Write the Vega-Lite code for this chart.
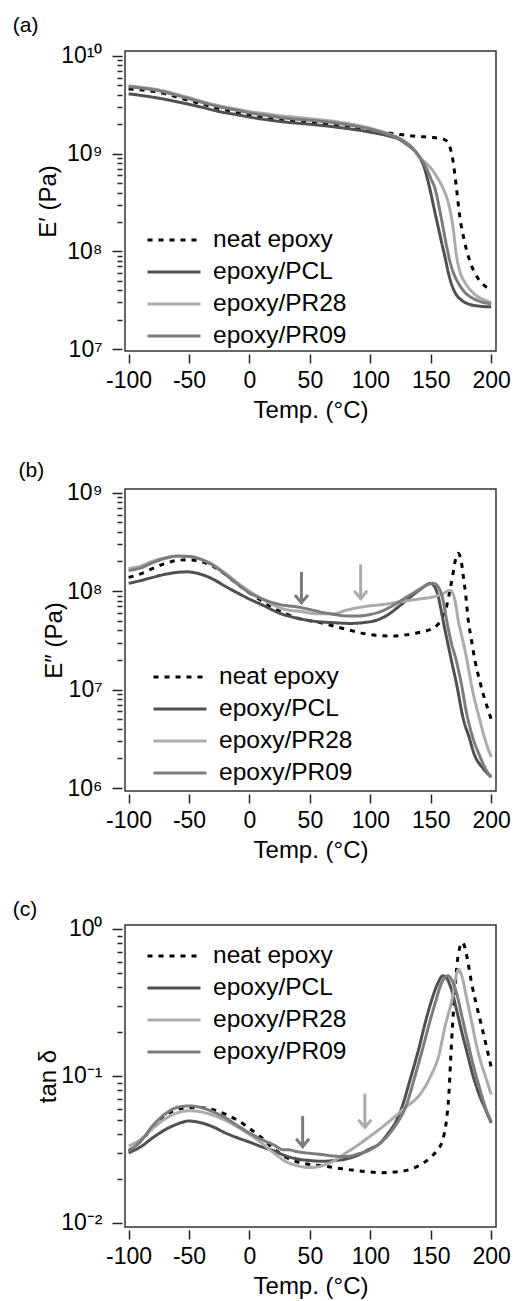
{
  "$schema": "https://vega.github.io/schema/vega-lite/v6.json",
  "padding": {"left": 12, "top": 14, "right": 5, "bottom": 0},
  "spacing": 35,
  "resolve": {"legend": {"color": "independent", "strokeDash": "independent"}},
  "datasets": {
    "a": [
      {"s":"neat epoxy","T":-100,"v":4.6e9},{"s":"neat epoxy","T":-90,"v":4.5e9},{"s":"neat epoxy","T":-75,"v":4.25e9},{"s":"neat epoxy","T":-60,"v":3.8e9},{"s":"neat epoxy","T":-50,"v":3.5e9},{"s":"neat epoxy","T":-40,"v":3.25e9},{"s":"neat epoxy","T":-25,"v":2.9e9},{"s":"neat epoxy","T":-10,"v":2.65e9},{"s":"neat epoxy","T":0,"v":2.5e9},{"s":"neat epoxy","T":15,"v":2.3e9},{"s":"neat epoxy","T":25,"v":2.2e9},{"s":"neat epoxy","T":40,"v":2.12e9},{"s":"neat epoxy","T":50,"v":2.08e9},{"s":"neat epoxy","T":75,"v":1.93e9},{"s":"neat epoxy","T":100,"v":1.75e9},{"s":"neat epoxy","T":115,"v":1.63e9},{"s":"neat epoxy","T":125,"v":1.57e9},{"s":"neat epoxy","T":140,"v":1.5e9},{"s":"neat epoxy","T":150,"v":1.47e9},{"s":"neat epoxy","T":158,"v":1.43e9},{"s":"neat epoxy","T":162,"v":1.38e9},{"s":"neat epoxy","T":164.5,"v":1.28e9},{"s":"neat epoxy","T":166.5,"v":1.1e9},{"s":"neat epoxy","T":168.6,"v":8.2e8},{"s":"neat epoxy","T":171.3,"v":4.4e8},{"s":"neat epoxy","T":174,"v":2.3e8},{"s":"neat epoxy","T":178,"v":1.25e8},{"s":"neat epoxy","T":181,"v":9e7},{"s":"neat epoxy","T":184,"v":7e7},{"s":"neat epoxy","T":190,"v":5.1e7},{"s":"neat epoxy","T":195,"v":4.4e7},{"s":"neat epoxy","T":200,"v":4e7},
      {"s":"epoxy/PCL","T":-100,"v":4.1e9},{"s":"epoxy/PCL","T":-90,"v":3.95e9},{"s":"epoxy/PCL","T":-75,"v":3.7e9},{"s":"epoxy/PCL","T":-60,"v":3.4e9},{"s":"epoxy/PCL","T":-50,"v":3.2e9},{"s":"epoxy/PCL","T":-40,"v":3.0e9},{"s":"epoxy/PCL","T":-25,"v":2.7e9},{"s":"epoxy/PCL","T":-10,"v":2.5e9},{"s":"epoxy/PCL","T":0,"v":2.37e9},{"s":"epoxy/PCL","T":15,"v":2.22e9},{"s":"epoxy/PCL","T":25,"v":2.14e9},{"s":"epoxy/PCL","T":40,"v":2.05e9},{"s":"epoxy/PCL","T":50,"v":2.0e9},{"s":"epoxy/PCL","T":75,"v":1.85e9},{"s":"epoxy/PCL","T":100,"v":1.66e9},{"s":"epoxy/PCL","T":115,"v":1.52e9},{"s":"epoxy/PCL","T":125,"v":1.38e9},{"s":"epoxy/PCL","T":130,"v":1.25e9},{"s":"epoxy/PCL","T":135,"v":1.12e9},{"s":"epoxy/PCL","T":140,"v":9.5e8},{"s":"epoxy/PCL","T":145,"v":7e8},{"s":"epoxy/PCL","T":149,"v":4.5e8},{"s":"epoxy/PCL","T":153.5,"v":2.5e8},{"s":"epoxy/PCL","T":156.5,"v":1.7e8},{"s":"epoxy/PCL","T":159,"v":1.23e8},{"s":"epoxy/PCL","T":162,"v":8.5e7},{"s":"epoxy/PCL","T":164.5,"v":6.1e7},{"s":"epoxy/PCL","T":167,"v":4.7e7},{"s":"epoxy/PCL","T":170,"v":3.8e7},{"s":"epoxy/PCL","T":175,"v":3.2e7},{"s":"epoxy/PCL","T":181,"v":2.9e7},{"s":"epoxy/PCL","T":190,"v":2.75e7},{"s":"epoxy/PCL","T":200,"v":2.7e7},
      {"s":"epoxy/PR28","T":-100,"v":4.95e9},{"s":"epoxy/PR28","T":-90,"v":4.8e9},{"s":"epoxy/PR28","T":-75,"v":4.5e9},{"s":"epoxy/PR28","T":-60,"v":4.05e9},{"s":"epoxy/PR28","T":-50,"v":3.75e9},{"s":"epoxy/PR28","T":-40,"v":3.45e9},{"s":"epoxy/PR28","T":-25,"v":3.1e9},{"s":"epoxy/PR28","T":-10,"v":2.85e9},{"s":"epoxy/PR28","T":0,"v":2.7e9},{"s":"epoxy/PR28","T":15,"v":2.55e9},{"s":"epoxy/PR28","T":25,"v":2.45e9},{"s":"epoxy/PR28","T":40,"v":2.35e9},{"s":"epoxy/PR28","T":50,"v":2.28e9},{"s":"epoxy/PR28","T":75,"v":2.1e9},{"s":"epoxy/PR28","T":100,"v":1.82e9},{"s":"epoxy/PR28","T":115,"v":1.6e9},{"s":"epoxy/PR28","T":125,"v":1.42e9},{"s":"epoxy/PR28","T":130,"v":1.3e9},{"s":"epoxy/PR28","T":135,"v":1.15e9},{"s":"epoxy/PR28","T":140,"v":9.3e8},{"s":"epoxy/PR28","T":145,"v":8.2e8},{"s":"epoxy/PR28","T":150.6,"v":7e8},{"s":"epoxy/PR28","T":155,"v":5.8e8},{"s":"epoxy/PR28","T":160.3,"v":4.4e8},{"s":"epoxy/PR28","T":165.8,"v":2.7e8},{"s":"epoxy/PR28","T":168.6,"v":1.7e8},{"s":"epoxy/PR28","T":171.3,"v":9e7},{"s":"epoxy/PR28","T":174,"v":6.3e7},{"s":"epoxy/PR28","T":178.3,"v":4.8e7},{"s":"epoxy/PR28","T":183,"v":4e7},{"s":"epoxy/PR28","T":188,"v":3.5e7},{"s":"epoxy/PR28","T":194,"v":3.2e7},{"s":"epoxy/PR28","T":200,"v":3.0e7},
      {"s":"epoxy/PR09","T":-100,"v":4.85e9},{"s":"epoxy/PR09","T":-90,"v":4.7e9},{"s":"epoxy/PR09","T":-75,"v":4.4e9},{"s":"epoxy/PR09","T":-60,"v":3.95e9},{"s":"epoxy/PR09","T":-50,"v":3.65e9},{"s":"epoxy/PR09","T":-40,"v":3.38e9},{"s":"epoxy/PR09","T":-25,"v":3.02e9},{"s":"epoxy/PR09","T":-10,"v":2.78e9},{"s":"epoxy/PR09","T":0,"v":2.62e9},{"s":"epoxy/PR09","T":15,"v":2.45e9},{"s":"epoxy/PR09","T":25,"v":2.35e9},{"s":"epoxy/PR09","T":40,"v":2.25e9},{"s":"epoxy/PR09","T":50,"v":2.2e9},{"s":"epoxy/PR09","T":75,"v":2.03e9},{"s":"epoxy/PR09","T":100,"v":1.78e9},{"s":"epoxy/PR09","T":115,"v":1.57e9},{"s":"epoxy/PR09","T":125,"v":1.4e9},{"s":"epoxy/PR09","T":130,"v":1.27e9},{"s":"epoxy/PR09","T":135,"v":1.13e9},{"s":"epoxy/PR09","T":140,"v":9.6e8},{"s":"epoxy/PR09","T":146.6,"v":7e8},{"s":"epoxy/PR09","T":150,"v":5.6e8},{"s":"epoxy/PR09","T":153.5,"v":4.4e8},{"s":"epoxy/PR09","T":159,"v":2.1e8},{"s":"epoxy/PR09","T":163,"v":1.15e8},{"s":"epoxy/PR09","T":166,"v":7.8e7},{"s":"epoxy/PR09","T":168.6,"v":6.1e7},{"s":"epoxy/PR09","T":173,"v":4.7e7},{"s":"epoxy/PR09","T":178.3,"v":3.8e7},{"s":"epoxy/PR09","T":184,"v":3.35e7},{"s":"epoxy/PR09","T":190,"v":3.1e7},{"s":"epoxy/PR09","T":200,"v":2.9e7}
    ],
    "b": [
      {"s":"neat epoxy","T":-100,"v":1.38e8},{"s":"neat epoxy","T":-90,"v":1.5e8},{"s":"neat epoxy","T":-80,"v":1.7e8},{"s":"neat epoxy","T":-70,"v":1.9e8},{"s":"neat epoxy","T":-60,"v":2.05e8},{"s":"neat epoxy","T":-50,"v":2.08e8},{"s":"neat epoxy","T":-40,"v":2.0e8},{"s":"neat epoxy","T":-30,"v":1.78e8},{"s":"neat epoxy","T":-20,"v":1.48e8},{"s":"neat epoxy","T":-10,"v":1.18e8},{"s":"neat epoxy","T":0,"v":9.6e7},{"s":"neat epoxy","T":10,"v":8e7},{"s":"neat epoxy","T":18,"v":6.9e7},{"s":"neat epoxy","T":30,"v":5.9e7},{"s":"neat epoxy","T":40,"v":5.3e7},{"s":"neat epoxy","T":50,"v":5e7},{"s":"neat epoxy","T":60,"v":4.75e7},{"s":"neat epoxy","T":67,"v":4.5e7},{"s":"neat epoxy","T":80,"v":4.1e7},{"s":"neat epoxy","T":95,"v":3.7e7},{"s":"neat epoxy","T":105,"v":3.55e7},{"s":"neat epoxy","T":117,"v":3.5e7},{"s":"neat epoxy","T":130,"v":3.6e7},{"s":"neat epoxy","T":140,"v":3.8e7},{"s":"neat epoxy","T":150,"v":4.1e7},{"s":"neat epoxy","T":156,"v":4.6e7},{"s":"neat epoxy","T":160,"v":5.5e7},{"s":"neat epoxy","T":163,"v":6.9e7},{"s":"neat epoxy","T":165,"v":9e7},{"s":"neat epoxy","T":168,"v":1.4e8},{"s":"neat epoxy","T":170.5,"v":2.1e8},{"s":"neat epoxy","T":172.7,"v":2.42e8},{"s":"neat epoxy","T":175,"v":2.1e8},{"s":"neat epoxy","T":177,"v":1.4e8},{"s":"neat epoxy","T":179,"v":9e7},{"s":"neat epoxy","T":181,"v":5.1e7},{"s":"neat epoxy","T":183.5,"v":3.3e7},{"s":"neat epoxy","T":186.5,"v":2e7},{"s":"neat epoxy","T":190,"v":1.3e7},{"s":"neat epoxy","T":194,"v":8.5e6},{"s":"neat epoxy","T":197,"v":6.5e6},{"s":"neat epoxy","T":200,"v":5e6},
      {"s":"epoxy/PCL","T":-100,"v":1.2e8},{"s":"epoxy/PCL","T":-90,"v":1.28e8},{"s":"epoxy/PCL","T":-80,"v":1.38e8},{"s":"epoxy/PCL","T":-70,"v":1.48e8},{"s":"epoxy/PCL","T":-60,"v":1.55e8},{"s":"epoxy/PCL","T":-52,"v":1.57e8},{"s":"epoxy/PCL","T":-40,"v":1.48e8},{"s":"epoxy/PCL","T":-30,"v":1.32e8},{"s":"epoxy/PCL","T":-20,"v":1.12e8},{"s":"epoxy/PCL","T":-10,"v":9.6e7},{"s":"epoxy/PCL","T":0,"v":8.3e7},{"s":"epoxy/PCL","T":10,"v":7.3e7},{"s":"epoxy/PCL","T":26,"v":5.9e7},{"s":"epoxy/PCL","T":40,"v":5.3e7},{"s":"epoxy/PCL","T":56,"v":4.9e7},{"s":"epoxy/PCL","T":67,"v":4.8e7},{"s":"epoxy/PCL","T":84,"v":4.7e7},{"s":"epoxy/PCL","T":95,"v":4.8e7},{"s":"epoxy/PCL","T":106,"v":5.1e7},{"s":"epoxy/PCL","T":115,"v":5.8e7},{"s":"epoxy/PCL","T":123,"v":6.9e7},{"s":"epoxy/PCL","T":130,"v":8.1e7},{"s":"epoxy/PCL","T":137,"v":9.5e7},{"s":"epoxy/PCL","T":144,"v":1.1e8},{"s":"epoxy/PCL","T":149.5,"v":1.2e8},{"s":"epoxy/PCL","T":153,"v":1.12e8},{"s":"epoxy/PCL","T":156,"v":9e7},{"s":"epoxy/PCL","T":158.5,"v":6.5e7},{"s":"epoxy/PCL","T":161,"v":4.5e7},{"s":"epoxy/PCL","T":164,"v":3e7},{"s":"epoxy/PCL","T":167,"v":2e7},{"s":"epoxy/PCL","T":171,"v":1.2e7},{"s":"epoxy/PCL","T":177,"v":5e6},{"s":"epoxy/PCL","T":182,"v":3.2e6},{"s":"epoxy/PCL","T":186,"v":2.2e6},{"s":"epoxy/PCL","T":193,"v":1.6e6},{"s":"epoxy/PCL","T":200,"v":1.3e6},
      {"s":"epoxy/PR28","T":-100,"v":1.7e8},{"s":"epoxy/PR28","T":-90,"v":1.8e8},{"s":"epoxy/PR28","T":-80,"v":2.02e8},{"s":"epoxy/PR28","T":-70,"v":2.18e8},{"s":"epoxy/PR28","T":-60,"v":2.26e8},{"s":"epoxy/PR28","T":-50,"v":2.24e8},{"s":"epoxy/PR28","T":-40,"v":2.1e8},{"s":"epoxy/PR28","T":-30,"v":1.85e8},{"s":"epoxy/PR28","T":-20,"v":1.52e8},{"s":"epoxy/PR28","T":-10,"v":1.22e8},{"s":"epoxy/PR28","T":0,"v":1.0e8},{"s":"epoxy/PR28","T":10,"v":8.4e7},{"s":"epoxy/PR28","T":20,"v":7.2e7},{"s":"epoxy/PR28","T":30,"v":6.5e7},{"s":"epoxy/PR28","T":43,"v":6.2e7},{"s":"epoxy/PR28","T":55,"v":5.9e7},{"s":"epoxy/PR28","T":70,"v":5.9e7},{"s":"epoxy/PR28","T":80,"v":6.4e7},{"s":"epoxy/PR28","T":90,"v":6.8e7},{"s":"epoxy/PR28","T":100,"v":7.1e7},{"s":"epoxy/PR28","T":110,"v":7.3e7},{"s":"epoxy/PR28","T":125,"v":7.8e7},{"s":"epoxy/PR28","T":140,"v":8.3e7},{"s":"epoxy/PR28","T":153,"v":8.8e7},{"s":"epoxy/PR28","T":160,"v":9.4e7},{"s":"epoxy/PR28","T":166,"v":1.02e8},{"s":"epoxy/PR28","T":169,"v":9e7},{"s":"epoxy/PR28","T":171,"v":7e7},{"s":"epoxy/PR28","T":172.8,"v":5e7},{"s":"epoxy/PR28","T":175,"v":3.8e7},{"s":"epoxy/PR28","T":179,"v":2.3e7},{"s":"epoxy/PR28","T":184,"v":1.07e7},{"s":"epoxy/PR28","T":190.6,"v":4.9e6},{"s":"epoxy/PR28","T":195,"v":3.1e6},{"s":"epoxy/PR28","T":200,"v":2.07e6},
      {"s":"epoxy/PR09","T":-100,"v":1.62e8},{"s":"epoxy/PR09","T":-90,"v":1.72e8},{"s":"epoxy/PR09","T":-80,"v":1.95e8},{"s":"epoxy/PR09","T":-70,"v":2.15e8},{"s":"epoxy/PR09","T":-60,"v":2.27e8},{"s":"epoxy/PR09","T":-50,"v":2.25e8},{"s":"epoxy/PR09","T":-40,"v":2.1e8},{"s":"epoxy/PR09","T":-30,"v":1.82e8},{"s":"epoxy/PR09","T":-20,"v":1.48e8},{"s":"epoxy/PR09","T":-10,"v":1.18e8},{"s":"epoxy/PR09","T":0,"v":9.6e7},{"s":"epoxy/PR09","T":10,"v":8.4e7},{"s":"epoxy/PR09","T":20,"v":7.6e7},{"s":"epoxy/PR09","T":28,"v":7.2e7},{"s":"epoxy/PR09","T":40,"v":6.9e7},{"s":"epoxy/PR09","T":50,"v":6.5e7},{"s":"epoxy/PR09","T":60,"v":6.1e7},{"s":"epoxy/PR09","T":70,"v":5.8e7},{"s":"epoxy/PR09","T":80,"v":5.6e7},{"s":"epoxy/PR09","T":90,"v":5.6e7},{"s":"epoxy/PR09","T":100,"v":5.8e7},{"s":"epoxy/PR09","T":110,"v":6.3e7},{"s":"epoxy/PR09","T":120,"v":7.3e7},{"s":"epoxy/PR09","T":130,"v":8.7e7},{"s":"epoxy/PR09","T":140,"v":1.03e8},{"s":"epoxy/PR09","T":147,"v":1.16e8},{"s":"epoxy/PR09","T":152,"v":1.2e8},{"s":"epoxy/PR09","T":155,"v":1.15e8},{"s":"epoxy/PR09","T":158,"v":1.0e8},{"s":"epoxy/PR09","T":160.5,"v":7.8e7},{"s":"epoxy/PR09","T":163,"v":5.2e7},{"s":"epoxy/PR09","T":167,"v":3e7},{"s":"epoxy/PR09","T":171,"v":2e7},{"s":"epoxy/PR09","T":175,"v":1.2e7},{"s":"epoxy/PR09","T":180,"v":5.5e6},{"s":"epoxy/PR09","T":185,"v":3.2e6},{"s":"epoxy/PR09","T":190,"v":2.2e6},{"s":"epoxy/PR09","T":195,"v":1.6e6},{"s":"epoxy/PR09","T":200,"v":1.28e6}
    ],
    "c": [
      {"s":"neat epoxy","T":-100,"v":0.031},{"s":"neat epoxy","T":-90,"v":0.036},{"s":"neat epoxy","T":-80,"v":0.045},{"s":"neat epoxy","T":-70,"v":0.054},{"s":"neat epoxy","T":-60,"v":0.059},{"s":"neat epoxy","T":-50,"v":0.061},{"s":"neat epoxy","T":-40,"v":0.061},{"s":"neat epoxy","T":-30,"v":0.059},{"s":"neat epoxy","T":-20,"v":0.055},{"s":"neat epoxy","T":-10,"v":0.05},{"s":"neat epoxy","T":0,"v":0.044},{"s":"neat epoxy","T":10,"v":0.038},{"s":"neat epoxy","T":20,"v":0.032},{"s":"neat epoxy","T":30,"v":0.028},{"s":"neat epoxy","T":40,"v":0.026},{"s":"neat epoxy","T":50,"v":0.025},{"s":"neat epoxy","T":60,"v":0.0245},{"s":"neat epoxy","T":70,"v":0.0238},{"s":"neat epoxy","T":80,"v":0.0232},{"s":"neat epoxy","T":90,"v":0.0226},{"s":"neat epoxy","T":100,"v":0.0222},{"s":"neat epoxy","T":110,"v":0.022},{"s":"neat epoxy","T":120,"v":0.0222},{"s":"neat epoxy","T":130,"v":0.0228},{"s":"neat epoxy","T":140,"v":0.0245},{"s":"neat epoxy","T":150,"v":0.028},{"s":"neat epoxy","T":155,"v":0.031},{"s":"neat epoxy","T":160,"v":0.037},{"s":"neat epoxy","T":163,"v":0.05},{"s":"neat epoxy","T":165,"v":0.075},{"s":"neat epoxy","T":166.5,"v":0.13},{"s":"neat epoxy","T":168,"v":0.22},{"s":"neat epoxy","T":170,"v":0.38},{"s":"neat epoxy","T":172,"v":0.6},{"s":"neat epoxy","T":174,"v":0.75},{"s":"neat epoxy","T":176,"v":0.81},{"s":"neat epoxy","T":178,"v":0.76},{"s":"neat epoxy","T":181,"v":0.58},{"s":"neat epoxy","T":184,"v":0.42},{"s":"neat epoxy","T":188,"v":0.3},{"s":"neat epoxy","T":192,"v":0.22},{"s":"neat epoxy","T":196,"v":0.16},{"s":"neat epoxy","T":200,"v":0.115},
      {"s":"epoxy/PCL","T":-100,"v":0.030},{"s":"epoxy/PCL","T":-90,"v":0.033},{"s":"epoxy/PCL","T":-80,"v":0.038},{"s":"epoxy/PCL","T":-70,"v":0.043},{"s":"epoxy/PCL","T":-60,"v":0.047},{"s":"epoxy/PCL","T":-50,"v":0.0494},{"s":"epoxy/PCL","T":-40,"v":0.048},{"s":"epoxy/PCL","T":-30,"v":0.045},{"s":"epoxy/PCL","T":-20,"v":0.041},{"s":"epoxy/PCL","T":-10,"v":0.038},{"s":"epoxy/PCL","T":0,"v":0.0355},{"s":"epoxy/PCL","T":10,"v":0.033},{"s":"epoxy/PCL","T":20,"v":0.031},{"s":"epoxy/PCL","T":30,"v":0.0286},{"s":"epoxy/PCL","T":40,"v":0.0272},{"s":"epoxy/PCL","T":50,"v":0.0266},{"s":"epoxy/PCL","T":60,"v":0.0263},{"s":"epoxy/PCL","T":70,"v":0.0266},{"s":"epoxy/PCL","T":80,"v":0.0272},{"s":"epoxy/PCL","T":90,"v":0.029},{"s":"epoxy/PCL","T":100,"v":0.032},{"s":"epoxy/PCL","T":107,"v":0.0343},{"s":"epoxy/PCL","T":115,"v":0.041},{"s":"epoxy/PCL","T":120,"v":0.047},{"s":"epoxy/PCL","T":126.5,"v":0.0625},{"s":"epoxy/PCL","T":133,"v":0.095},{"s":"epoxy/PCL","T":140,"v":0.152},{"s":"epoxy/PCL","T":146,"v":0.24},{"s":"epoxy/PCL","T":151,"v":0.333},{"s":"epoxy/PCL","T":156,"v":0.43},{"s":"epoxy/PCL","T":160,"v":0.48},{"s":"epoxy/PCL","T":163,"v":0.465},{"s":"epoxy/PCL","T":167,"v":0.39},{"s":"epoxy/PCL","T":171,"v":0.29},{"s":"epoxy/PCL","T":175,"v":0.21},{"s":"epoxy/PCL","T":180,"v":0.145},{"s":"epoxy/PCL","T":185,"v":0.1},{"s":"epoxy/PCL","T":190,"v":0.075},{"s":"epoxy/PCL","T":195,"v":0.06},{"s":"epoxy/PCL","T":200,"v":0.048},
      {"s":"epoxy/PR28","T":-100,"v":0.0334},{"s":"epoxy/PR28","T":-90,"v":0.037},{"s":"epoxy/PR28","T":-80,"v":0.044},{"s":"epoxy/PR28","T":-70,"v":0.051},{"s":"epoxy/PR28","T":-60,"v":0.056},{"s":"epoxy/PR28","T":-50,"v":0.058},{"s":"epoxy/PR28","T":-40,"v":0.057},{"s":"epoxy/PR28","T":-30,"v":0.054},{"s":"epoxy/PR28","T":-20,"v":0.05},{"s":"epoxy/PR28","T":-10,"v":0.045},{"s":"epoxy/PR28","T":0,"v":0.04},{"s":"epoxy/PR28","T":10,"v":0.035},{"s":"epoxy/PR28","T":20,"v":0.03},{"s":"epoxy/PR28","T":30,"v":0.0262},{"s":"epoxy/PR28","T":40,"v":0.0245},{"s":"epoxy/PR28","T":50,"v":0.0238},{"s":"epoxy/PR28","T":60,"v":0.0245},{"s":"epoxy/PR28","T":70,"v":0.0265},{"s":"epoxy/PR28","T":80,"v":0.03},{"s":"epoxy/PR28","T":90,"v":0.034},{"s":"epoxy/PR28","T":100,"v":0.039},{"s":"epoxy/PR28","T":110,"v":0.045},{"s":"epoxy/PR28","T":121,"v":0.0535},{"s":"epoxy/PR28","T":130,"v":0.062},{"s":"epoxy/PR28","T":140,"v":0.073},{"s":"epoxy/PR28","T":150,"v":0.1},{"s":"epoxy/PR28","T":156.6,"v":0.137},{"s":"epoxy/PR28","T":162,"v":0.22},{"s":"epoxy/PR28","T":167.6,"v":0.333},{"s":"epoxy/PR28","T":171,"v":0.48},{"s":"epoxy/PR28","T":173,"v":0.53},{"s":"epoxy/PR28","T":176,"v":0.47},{"s":"epoxy/PR28","T":180,"v":0.33},{"s":"epoxy/PR28","T":184,"v":0.23},{"s":"epoxy/PR28","T":188,"v":0.16},{"s":"epoxy/PR28","T":192,"v":0.12},{"s":"epoxy/PR28","T":196,"v":0.095},{"s":"epoxy/PR28","T":200,"v":0.075},
      {"s":"epoxy/PR09","T":-100,"v":0.031},{"s":"epoxy/PR09","T":-90,"v":0.036},{"s":"epoxy/PR09","T":-80,"v":0.046},{"s":"epoxy/PR09","T":-70,"v":0.055},{"s":"epoxy/PR09","T":-60,"v":0.061},{"s":"epoxy/PR09","T":-50,"v":0.0625},{"s":"epoxy/PR09","T":-40,"v":0.061},{"s":"epoxy/PR09","T":-30,"v":0.057},{"s":"epoxy/PR09","T":-20,"v":0.052},{"s":"epoxy/PR09","T":-10,"v":0.046},{"s":"epoxy/PR09","T":0,"v":0.041},{"s":"epoxy/PR09","T":10,"v":0.037},{"s":"epoxy/PR09","T":20,"v":0.034},{"s":"epoxy/PR09","T":28,"v":0.0315},{"s":"epoxy/PR09","T":32,"v":0.0315},{"s":"epoxy/PR09","T":40,"v":0.0305},{"s":"epoxy/PR09","T":50,"v":0.0298},{"s":"epoxy/PR09","T":60,"v":0.0292},{"s":"epoxy/PR09","T":70,"v":0.0285},{"s":"epoxy/PR09","T":80,"v":0.0283},{"s":"epoxy/PR09","T":90,"v":0.0295},{"s":"epoxy/PR09","T":100,"v":0.0315},{"s":"epoxy/PR09","T":110,"v":0.036},{"s":"epoxy/PR09","T":120,"v":0.045},{"s":"epoxy/PR09","T":130,"v":0.064},{"s":"epoxy/PR09","T":137,"v":0.1},{"s":"epoxy/PR09","T":143,"v":0.15},{"s":"epoxy/PR09","T":149,"v":0.23},{"s":"epoxy/PR09","T":154,"v":0.32},{"s":"epoxy/PR09","T":159,"v":0.43},{"s":"epoxy/PR09","T":164,"v":0.48},{"s":"epoxy/PR09","T":168,"v":0.44},{"s":"epoxy/PR09","T":172,"v":0.35},{"s":"epoxy/PR09","T":176,"v":0.25},{"s":"epoxy/PR09","T":180,"v":0.18},{"s":"epoxy/PR09","T":185,"v":0.12},{"s":"epoxy/PR09","T":190,"v":0.085},{"s":"epoxy/PR09","T":195,"v":0.062},{"s":"epoxy/PR09","T":200,"v":0.049}
    ],
    "arB": [
      {"s":"epoxy/PR09","T":43,"top":1.57e8,"tip":7.6e7},
      {"s":"epoxy/PR28","T":92,"top":1.87e8,"tip":8.4e7}
    ],
    "arC": [
      {"s":"epoxy/PR09","T":44,"top":0.0534,"tip":0.0331},
      {"s":"epoxy/PR28","T":95.5,"top":0.0759,"tip":0.0446}
    ]
  },
  "vconcat": [
    {
      "width": 371, "height": 300,
      "title": {"text": "(a)", "frame": "bounds", "dx": -24, "offset": 9},
      "data": {"name": "a"},
      "mark": {"type": "line", "strokeWidth": 3, "interpolate": "monotone"},
      "encoding": {
        "x": {"field": "T", "type": "quantitative", "scale": {"domain": [-103, 204], "nice": false, "zero": false},
              "axis": {"values": [-100,-50,0,50,100,150,200], "title": "Temp. (°C)", "labelExpr": "toString(datum.value)"}},
        "y": {"field": "v", "type": "quantitative", "scale": {"type": "log", "domain": [9.55e6, 1.125e10], "nice": false},
              "axis": {"title": "E′ (Pa)",
                       "values": [1e7,2e7,3e7,4e7,5e7,6e7,7e7,8e7,9e7,1e8,2e8,3e8,4e8,5e8,6e8,7e8,8e8,9e8,1e9,2e9,3e9,4e9,5e9,6e9,7e9,8e9,9e9,1e10],
                       "labelExpr": "datum.value == 1e10 ? '10¹⁰' : datum.value == 1e9 ? '10⁹' : datum.value == 1e8 ? '10⁸' : datum.value == 1e7 ? '10⁷' : ''"}},
        "color": {"field": "s", "type": "nominal", "sort": null,
                  "scale": {"domain": ["neat epoxy","epoxy/PCL","epoxy/PR28","epoxy/PR09"], "range": ["#000000","#505050","#ababab","#7c7c7c"]},
                  "legend": {"orient": "none", "legendX": 34, "legendY": 174, "title": null}},
        "strokeDash": {"field": "s", "type": "nominal", "sort": null,
                  "scale": {"domain": ["neat epoxy","epoxy/PCL","epoxy/PR28","epoxy/PR09"], "range": [[5,6],[1,0],[1,0],[1,0]]},
                  "legend": {"orient": "none", "legendX": 34, "legendY": 174, "title": null}},
        "order": {"field": "T", "type": "quantitative"}
      }
    },
    {
      "width": 371, "height": 302,
      "title": {"text": "(b)", "frame": "bounds", "dx": -24, "offset": 1},
      "layer": [
        {
          "data": {"name": "b"},
          "mark": {"type": "line", "strokeWidth": 3, "interpolate": "monotone"},
          "encoding": {
            "x": {"field": "T", "type": "quantitative", "scale": {"domain": [-103, 204], "nice": false, "zero": false},
                  "axis": {"values": [-100,-50,0,50,100,150,200], "title": "Temp. (°C)", "labelExpr": "toString(datum.value)"}},
            "y": {"field": "v", "type": "quantitative", "scale": {"type": "log", "domain": [9.33e5, 1.09e9], "nice": false},
                  "axis": {"title": "E″ (Pa)",
                           "values": [1e6,2e6,3e6,4e6,5e6,6e6,7e6,8e6,9e6,1e7,2e7,3e7,4e7,5e7,6e7,7e7,8e7,9e7,1e8,2e8,3e8,4e8,5e8,6e8,7e8,8e8,9e8,1e9],
                           "labelExpr": "datum.value == 1e9 ? '10⁹' : datum.value == 1e8 ? '10⁸' : datum.value == 1e7 ? '10⁷' : datum.value == 1e6 ? '10⁶' : ''"}},
            "color": {"field": "s", "type": "nominal", "sort": null,
                      "scale": {"domain": ["neat epoxy","epoxy/PCL","epoxy/PR28","epoxy/PR09"], "range": ["#000000","#505050","#ababab","#7c7c7c"]},
                      "legend": {"orient": "none", "legendX": 40, "legendY": 173, "title": null}},
            "strokeDash": {"field": "s", "type": "nominal", "sort": null,
                      "scale": {"domain": ["neat epoxy","epoxy/PCL","epoxy/PR28","epoxy/PR09"], "range": [[5,6],[1,0],[1,0],[1,0]]},
                      "legend": {"orient": "none", "legendX": 40, "legendY": 173, "title": null}},
            "order": {"field": "T", "type": "quantitative"}
          }
        },
        {
          "data": {"name": "arB"},
          "mark": {"type": "rule", "strokeWidth": 3},
          "encoding": {
            "x": {"field": "T", "type": "quantitative"},
            "y": {"field": "top", "type": "quantitative"},
            "y2": {"field": "tip"},
            "color": {"condition": {"test": "datum.s == 'epoxy/PR09'", "value": "#7c7c7c"}, "value": "#ababab"}
          }
        },
        {
          "data": {"name": "arB"},
          "mark": {"type": "point", "shape": "M-1,-1.2L0,0L1,-1.2", "filled": false, "strokeWidth": 3, "size": 169, "opacity": 1},
          "encoding": {
            "x": {"field": "T", "type": "quantitative"},
            "y": {"field": "tip", "type": "quantitative"},
            "color": {"condition": {"test": "datum.s == 'epoxy/PR09'", "value": "#7c7c7c"}, "value": "#ababab"}
          }
        }
      ]
    },
    {
      "width": 371, "height": 302,
      "title": {"text": "(c)", "frame": "bounds", "dx": -24, "offset": -2},
      "layer": [
        {
          "data": {"name": "c"},
          "mark": {"type": "line", "strokeWidth": 3, "interpolate": "monotone"},
          "encoding": {
            "x": {"field": "T", "type": "quantitative", "scale": {"domain": [-103, 204], "nice": false, "zero": false},
                  "axis": {"values": [-100,-50,0,50,100,150,200], "title": "Temp. (°C)", "labelExpr": "toString(datum.value)"}},
            "y": {"field": "v", "type": "quantitative", "scale": {"type": "log", "domain": [0.00939, 1.064], "nice": false},
                  "axis": {"title": "tan δ",
                           "values": [0.01,0.02,0.03,0.04,0.05,0.06,0.07,0.08,0.09,0.1,0.2,0.3,0.4,0.5,0.6,0.7,0.8,0.9,1],
                           "labelExpr": "datum.value == 1 ? '10⁰' : datum.value == 0.1 ? '10⁻¹' : datum.value == 0.01 ? '10⁻²' : ''"}},
            "color": {"field": "s", "type": "nominal", "sort": null,
                      "scale": {"domain": ["neat epoxy","epoxy/PCL","epoxy/PR28","epoxy/PR09"], "range": ["#000000","#505050","#ababab","#7c7c7c"]},
                      "legend": {"orient": "none", "legendX": 34, "legendY": 16, "title": null}},
            "strokeDash": {"field": "s", "type": "nominal", "sort": null,
                      "scale": {"domain": ["neat epoxy","epoxy/PCL","epoxy/PR28","epoxy/PR09"], "range": [[5,6],[1,0],[1,0],[1,0]]},
                      "legend": {"orient": "none", "legendX": 34, "legendY": 16, "title": null}},
            "order": {"field": "T", "type": "quantitative"}
          }
        },
        {
          "data": {"name": "arC"},
          "mark": {"type": "rule", "strokeWidth": 3},
          "encoding": {
            "x": {"field": "T", "type": "quantitative"},
            "y": {"field": "top", "type": "quantitative"},
            "y2": {"field": "tip"},
            "color": {"condition": {"test": "datum.s == 'epoxy/PR09'", "value": "#7c7c7c"}, "value": "#ababab"}
          }
        },
        {
          "data": {"name": "arC"},
          "mark": {"type": "point", "shape": "M-1,-1.2L0,0L1,-1.2", "filled": false, "strokeWidth": 3, "size": 169, "opacity": 1},
          "encoding": {
            "x": {"field": "T", "type": "quantitative"},
            "y": {"field": "tip", "type": "quantitative"},
            "color": {"condition": {"test": "datum.s == 'epoxy/PR09'", "value": "#7c7c7c"}, "value": "#ababab"}
          }
        }
      ]
    }
  ],
  "config": {
    "font": "Liberation Sans",
    "view": {"stroke": "#333333", "strokeWidth": 1.5},
    "title": {"font": "Liberation Sans", "fontSize": 21, "fontWeight": "normal", "anchor": "start", "color": "#000000"},
    "axis": {"labelFont": "Liberation Sans", "labelFontSize": 23, "labelColor": "#000000",
             "titleFont": "Liberation Sans", "titleFontSize": 24, "titleFontWeight": "normal", "titleColor": "#000000",
             "domain": false, "grid": false, "tickColor": "#222222", "tickWidth": 1.5, "offset": 3,
             "labelOverlap": false, "labelFlush": false},
    "axisX": {"tickSize": 9, "labelPadding": 6, "titlePadding": 6},
    "axisY": {"tickSize": {"condition": {"test": "datum.value == 1e10 || datum.value == 1e9 || datum.value == 1e8 || datum.value == 1e7 || datum.value == 1e6 || datum.value == 1 || datum.value == 0.1 || datum.value == 0.01", "value": 10}, "value": 5},
              "labelPadding": 10, "titlePadding": 0},
    "legend": {"symbolType": "M-2,0H2", "symbolSize": 702, "symbolStrokeWidth": 3, "labelFont": "Liberation Sans",
               "labelFontSize": 24.5, "labelColor": "#000000", "labelOffset": 24, "rowPadding": 5, "padding": 0}
  }
}
